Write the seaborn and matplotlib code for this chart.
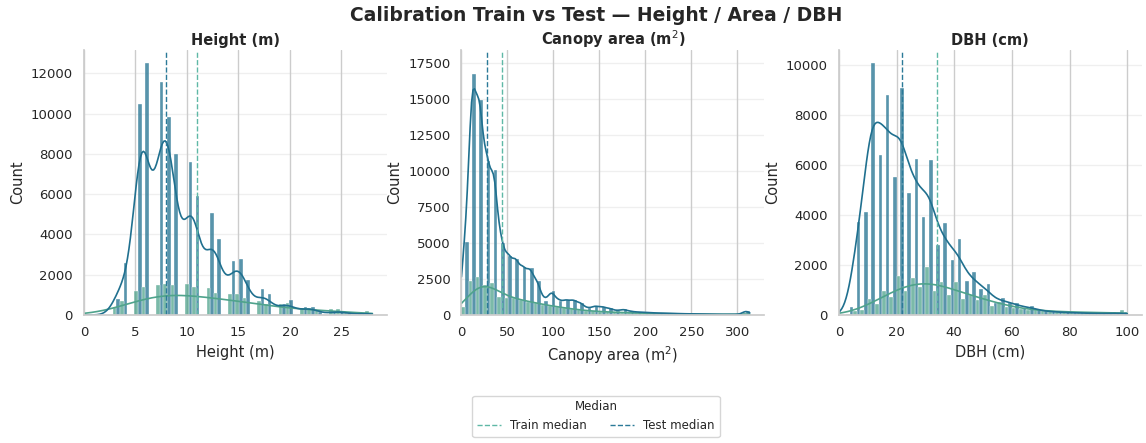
import numpy as np
import pandas as pd
import matplotlib
matplotlib.use("Agg")
import matplotlib.pyplot as plt
from matplotlib.lines import Line2D
from matplotlib.ticker import MultipleLocator
import seaborn as sns

# ---------------- data ----------------
splits = ["Train", "Test"]
n_bins = 40
panel_titles = ["Height (m)", "Canopy area (m$^2$)", "DBH (cm)"]
value_max = [28.0, 313.5, 100.0]
count_top = [13150, 18400, 10600]
count_step = [2000, 2500, 2000]

height_train = [0, 0, 0, 0, 400, 700, 0, 1210, 1410, 0,
                1490, 1540, 1490, 0, 1540, 1370, 0, 1330, 1100, 0,
                1030, 1030, 860, 0, 710, 550, 0, 550, 600, 0,
                330, 330, 250, 0, 280, 280, 150, 0, 130, 180]
height_test = [0, 0, 0, 0, 800, 2570, 0, 10480, 12500, 0,
               11550, 9850, 7990, 0, 7590, 5930, 0, 5060, 3780, 0,
               2690, 2770, 1740, 0, 1280, 1030, 0, 550, 750, 0,
               380, 380, 170, 0, 170, 200, 100, 0, 80, 100]

area_train = [580, 2380, 2650, 2080, 2190, 1270, 1150, 1150, 1040, 920,
              810, 690, 620, 580, 460, 390, 350, 280, 250, 230,
              200, 180, 160, 150, 130, 120, 110, 100, 90, 80,
              70, 60, 60, 50, 50, 40, 40, 40, 40, 150]
area_test = [5080, 16730, 14930, 10660, 10040, 5010, 4110, 3900, 3300, 3230,
             2350, 990, 1660, 990, 1040, 1040, 850, 460, 620, 580,
             460, 300, 390, 250, 200, 180, 150, 130, 110, 100,
             90, 80, 70, 60, 50, 50, 40, 40, 40, 300]

dbh_train = [0, 50, 150, 200, 630, 430, 950, 700, 1570, 940,
             1470, 1110, 1900, 940, 1330, 800, 1320, 650, 800, 600,
             780, 350, 520, 320, 280, 240, 200, 180, 160, 150,
             130, 120, 120, 110, 100, 90, 90, 90, 100, 200]
dbh_test = [0, 310, 3720, 4120, 10100, 6400, 8800, 5530, 9070, 4890,
            6260, 3920, 6220, 2810, 3680, 2200, 3050, 1350, 1710, 1020,
            1250, 480, 670, 470, 470, 270, 360, 200, 150, 140,
            110, 100, 90, 80, 70, 60, 60, 60, 60, 100]

train_medians = [11.0, 44.1, 34.1]
test_medians = [8.0, 28.2, 22.0]

# ---------------- style ----------------
sns.set_theme(style="whitegrid")
plt.rcParams["font.family"] = ["DejaVu Sans"]
palette = {"Train": "#4fa38c", "Test": "#20708f"}
median_colors = {"Train": "#5fb8a6", "Test": "#2b7a98"}
kde_bw = [(0.45, 0.18), (0.22, 0.085), (0.33, 0.17)]  # (train, test) factors

fig = plt.figure(figsize=(11.46, 4.43), dpi=100)
fig.subplots_adjust(left=0.0733, right=0.9962, bottom=0.289, top=0.887, wspace=0.2465)
axes = fig.subplots(1, 3)

panels = [(height_train, height_test), (area_train, area_test), (dbh_train, dbh_test)]

for i, ax in enumerate(axes):
    tr, te = panels[i]
    rng = (0, value_max[i])
    width = value_max[i] / n_bins
    centers = np.arange(n_bins) * width + width / 2
    df = pd.DataFrame({
        "value": np.concatenate([centers, centers]),
        "count": np.array(tr + te, dtype=float),
        "split": ["Train"] * n_bins + ["Test"] * n_bins,
    })
    sns.histplot(data=df, x="value", weights="count", hue="split",
                 hue_order=splits, bins=n_bins, binrange=rng, multiple="dodge",
                 palette=palette, alpha=0.75, legend=False, ax=ax)
    # KDE curves (count-scaled by histplot)
    for split, counts, bw in zip(splits, (tr, te), kde_bw[i]):
        sns.histplot(x=centers, weights=np.array(counts, dtype=float),
                     bins=n_bins, binrange=rng,
                     kde=True, kde_kws=dict(bw_method=bw, cut=2, clip=rng),
                     element="step", fill=False, linewidth=0,
                     color=palette[split], line_kws=dict(lw=1.2), ax=ax)
    ax.axvline(train_medians[i], color=median_colors["Train"], ls="--", lw=1)
    ax.axvline(test_medians[i], color=median_colors["Test"], ls="--", lw=1)

    ax.set_xlim(0, value_max[i] * 1.05)
    ax.set_ylim(0, count_top[i])
    ax.yaxis.set_major_locator(MultipleLocator(count_step[i]))
    ax.set_title(panel_titles[i], fontsize=10.5, fontweight="bold", pad=4)
    ax.set_xlabel(panel_titles[i], fontsize=10.5)
    ax.set_ylabel("Count", fontsize=10.5)
    ax.tick_params(labelsize=9.5, pad=2)
    ax.grid(axis="y", alpha=0.3)
    sns.despine(ax=ax)

fig.suptitle("Calibration Train vs Test \u2014 Height / Area / DBH",
             fontsize=13.5, fontweight="bold", x=0.52, y=0.964, va="center")

handles = [Line2D([], [], color=median_colors["Train"], ls="--", lw=1, label="Train median"),
           Line2D([], [], color=median_colors["Test"], ls="--", lw=1, label="Test median")]
fig.legend(handles=handles, title="Median", loc="lower center", ncol=2,
           bbox_to_anchor=(0.52, 0.0), fontsize=8.5, title_fontsize=8.5, frameon=True)

fig.savefig("out.png", dpi=100)
